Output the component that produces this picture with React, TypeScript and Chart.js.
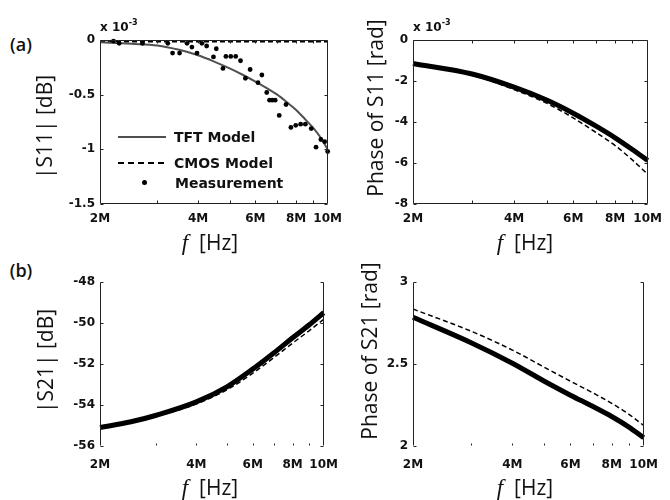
import React, { useEffect, useRef } from 'react';
import { Chart, registerables } from 'chart.js';
Chart.register(...registerables);

// ---- shared axis data ----
const xTickValues = [2, 4, 6, 8, 10];
const xTickLabels = ['2M', '4M', '6M', '8M', '10M'];
const xMinorTicks = [3, 4, 5, 6, 7, 8, 9];

// ---- (a) |S11| (x1e-3 dB) ----
const s11MagTftFreq = [2, 2.5, 3, 3.5, 4, 4.5, 5, 5.5, 6, 6.5, 7, 7.5, 8, 8.5, 9, 9.5, 10];
const s11MagTft = [-0.02, -0.035, -0.05, -0.09, -0.14, -0.2, -0.26, -0.32, -0.38, -0.44, -0.5, -0.57, -0.64, -0.72, -0.8, -0.89, -1.0];
const s11MagCmosFreq = [2, 4, 6, 8, 10];
const s11MagCmos = [-0.015, -0.015, -0.015, -0.015, -0.015];
const s11MagMeasFreq = [2.2, 2.29, 2.7, 3.23, 3.34, 3.51, 3.7, 3.83, 3.97, 4.11, 4.25, 4.46, 4.55, 4.77, 4.87, 5.04, 5.22, 5.4, 5.59, 5.78, 6.11, 6.28, 6.5, 6.63, 6.76, 6.9, 7.1, 7.45, 7.71, 7.98, 8.26, 8.54, 8.9, 9.21, 9.53, 9.79, 10];
const s11MagMeas = [-0.01, -0.03, -0.03, -0.03, -0.12, -0.12, -0.03, -0.065, -0.12, -0.03, -0.055, -0.155, -0.08, -0.26, -0.15, -0.15, -0.15, -0.19, -0.35, -0.27, -0.39, -0.32, -0.48, -0.55, -0.55, -0.55, -0.69, -0.59, -0.8, -0.78, -0.77, -0.77, -0.81, -0.98, -0.91, -0.93, -1.02];

// ---- (a) Phase of S11 (x1e-3 rad) ----
const s11PhFreq = [2, 3, 4, 5, 6, 7, 8, 9, 10];
const s11PhTft = [-1.15, -1.66, -2.3, -2.93, -3.57, -4.19, -4.77, -5.34, -5.88];
const s11PhCmos = [-1.18, -1.72, -2.42, -3.08, -3.8, -4.5, -5.15, -5.85, -6.55];
const s11PhMeas = [-1.15, -1.66, -2.3, -2.93, -3.57, -4.19, -4.77, -5.34, -5.88];

// ---- (b) |S21| (dB) ----
const s21MagFreq = [2, 2.5, 3, 4, 5, 6, 7, 8, 9, 10];
const s21MagTft = [-55.07, -54.79, -54.47, -53.82, -53.05, -52.2, -51.38, -50.64, -50.02, -49.42];
const s21MagCmos = [-55.1, -54.85, -54.55, -53.95, -53.25, -52.45, -51.68, -50.98, -50.38, -49.82];
const s21MagMeas = [-55.1, -54.82, -54.5, -53.85, -53.1, -52.25, -51.45, -50.72, -50.1, -49.5];

// ---- (b) Phase of S21 (rad) ----
const s21PhFreq = [2, 3, 4, 5, 6, 7, 8, 9, 10];
const s21PhTft = [2.785, 2.63, 2.505, 2.395, 2.31, 2.242, 2.18, 2.117, 2.05];
const s21PhCmos = [2.835, 2.7, 2.585, 2.48, 2.395, 2.325, 2.26, 2.195, 2.125];
const s21PhMeas = [2.785, 2.63, 2.505, 2.395, 2.31, 2.242, 2.18, 2.117, 2.05];

const pts = (xs: number[], ys: number[]) => xs.map((x, i) => ({ x, y: ys[i] }));

const tftStyle = (d: any) => ({ data: d, borderColor: '#505050', borderWidth: 2, pointRadius: 0, cubicInterpolationMode: 'monotone', fill: false });
const cmosStyle = (d: any) => ({ data: d, borderColor: '#000', borderWidth: 1.5, borderDash: [5, 3], pointRadius: 0, cubicInterpolationMode: 'monotone', fill: false });
const measLine = (d: any) => ({ data: d, borderColor: '#000', borderWidth: 5, pointRadius: 0, cubicInterpolationMode: 'monotone', fill: false, clip: false });
const measDots = (d: any) => ({ data: d, showLine: false, pointRadius: 2.4, pointBackgroundColor: '#000', pointBorderWidth: 0, borderColor: '#000', clip: false });

type PanelCfg = {
  left: number; top: number; width: number; height: number;
  area: { l: number; t: number; r: number; b: number };
  yMin: number; yMax: number; yStep: number; box: boolean; xPad: number;
  datasets: any[];
};

const panels: PanelCfg[] = [
  {
    left: 40, top: 20, width: 310, height: 220, area: { l: 100, t: 40, r: 335, b: 204 },
    yMin: -1.5, yMax: 0, yStep: 0.5, box: true, xPad: 8,
    datasets: [measDots(pts(s11MagMeasFreq, s11MagMeas)), tftStyle(pts(s11MagTftFreq, s11MagTft)), cmosStyle(pts(s11MagCmosFreq, s11MagCmos))],
  },
  {
    left: 352, top: 20, width: 318, height: 220, area: { l: 413, t: 40, r: 650, b: 204 },
    yMin: -8, yMax: 0, yStep: 2, box: true, xPad: 8,
    datasets: [measLine(pts(s11PhFreq, s11PhMeas)), tftStyle(pts(s11PhFreq, s11PhTft)), cmosStyle(pts(s11PhFreq, s11PhCmos))],
  },
  {
    left: 40, top: 262, width: 310, height: 218, area: { l: 100, t: 282, r: 335, b: 446 },
    yMin: -56, yMax: -48, yStep: 2, box: false, xPad: 12,
    datasets: [measLine(pts(s21MagFreq, s21MagMeas)), tftStyle(pts(s21MagFreq, s21MagTft)), cmosStyle(pts(s21MagFreq, s21MagCmos))],
  },
  {
    left: 352, top: 262, width: 318, height: 218, area: { l: 413, t: 282, r: 650, b: 446 },
    yMin: 2, yMax: 3, yStep: 0.5, box: false, xPad: 12,
    datasets: [measLine(pts(s21PhFreq, s21PhMeas)), tftStyle(pts(s21PhFreq, s21PhTft)), cmosStyle(pts(s21PhFreq, s21PhCmos))],
  },
];

const tickFont = { family: "'DejaVu Sans', sans-serif", size: 12, weight: 'bold' as const };

function framePlugin(box: boolean) {
  return {
    id: 'frame',
    afterDatasetsDraw(chart: any) {
      const { ctx, chartArea: a, scales } = chart;
      ctx.save();
      ctx.strokeStyle = '#222';
      ctx.lineWidth = 1;
      const L = Math.round(a.left) + 0.5, R = Math.round(a.right) - 0.5;
      const T = Math.round(a.top) + 0.5, B = Math.round(a.bottom) - 0.5;
      ctx.beginPath();
      if (box) {
        ctx.rect(L, T, R - L, B - T);
      } else {
        ctx.moveTo(L, T); ctx.lineTo(L, B);
        ctx.moveTo(R, T); ctx.lineTo(R, B);
      }
      ctx.stroke();
      ctx.beginPath();
      for (const f of xMinorTicks) {
        const x = Math.round(scales.x.getPixelForValue(f)) + 0.5;
        if (box) {
          ctx.moveTo(x, B); ctx.lineTo(x, B - 3);
          ctx.moveTo(x, T); ctx.lineTo(x, T + 3);
        } else {
          ctx.moveTo(x, B); ctx.lineTo(x, B - 2);
        }
      }
      for (const t of scales.y.ticks) {
        const y = Math.round(scales.y.getPixelForValue(t.value)) + 0.5;
        ctx.moveTo(L, y); ctx.lineTo(L + 3, y);
        ctx.moveTo(R, y); ctx.lineTo(R - 3, y);
      }
      ctx.stroke();
      ctx.restore();
    },
  };
}

function Panel({ cfg }: { cfg: PanelCfg }) {
  const ref = useRef<HTMLCanvasElement>(null);
  useEffect(() => {
    if (!ref.current) return;
    const { left, top, width, height, area } = cfg;
    const chart = new Chart(ref.current, {
      type: 'line',
      data: { datasets: cfg.datasets },
      options: {
        responsive: false,
        animation: false,
        devicePixelRatio: 1,
        layout: { padding: { top: area.t - top, right: left + width - area.r, left: 0, bottom: 0 } },
        plugins: { legend: { display: false }, tooltip: { enabled: false } },
        scales: {
          x: {
            type: 'logarithmic', min: 2, max: 10,
            grid: { display: false, drawTicks: false }, border: { display: false },
            afterBuildTicks: (s: any) => { s.ticks = xTickValues.map((v) => ({ value: v })); },
            afterFit: (s: any) => { s.height = top + height - area.b; },
            ticks: {
              autoSkip: false, maxRotation: 0, padding: cfg.xPad, color: '#111', font: tickFont,
              callback: (v: any) => xTickLabels[xTickValues.indexOf(Number(v))] ?? '',
            },
          },
          y: {
            type: 'linear', min: cfg.yMin, max: cfg.yMax,
            grid: { display: false, drawTicks: false }, border: { display: false },
            afterFit: (s: any) => { s.width = area.l - left; },
            ticks: {
              stepSize: cfg.yStep, padding: 5, color: '#111', font: tickFont,
              callback: (v: any) => String(Math.round(Number(v) * 100) / 100),
            },
          },
        },
      } as any,
      plugins: [framePlugin(cfg.box)],
    });
    return () => chart.destroy();
  }, [cfg]);
  return (
    <canvas ref={ref} width={cfg.width} height={cfg.height}
      style={{ position: 'absolute', left: cfg.left, top: cfg.top, width: cfg.width, height: cfg.height }} />
  );
}

const titleFont = "'Open Sans', 'Noto Sans', sans-serif";

function Txt({ x, y, children, style, rotate }: any) {
  return (
    <div style={{
      position: 'absolute', left: x, top: y, whiteSpace: 'nowrap', lineHeight: 1,
      transform: `translate(-50%, -50%)${rotate ? ' rotate(-90deg)' : ''}`, ...style,
    }}>{children}</div>
  );
}

const yTitleStyle = { fontFamily: titleFont, fontSize: 21, color: '#111' };
const xTitleStyle = { fontFamily: titleFont, fontSize: 21, color: '#111' };
const legendText = { fontFamily: "'DejaVu Sans', sans-serif", fontWeight: 'bold', fontSize: 14, color: '#111' };

function XTitle({ x, y }: any) {
  return (
    <Txt x={x} y={y} style={xTitleStyle}>
      <span style={{ fontFamily: "'Liberation Serif', serif", fontStyle: 'italic', fontSize: 23 }}>f</span>
      &nbsp;&nbsp;[Hz]
    </Txt>
  );
}

function Exp({ x, y }: any) {
  return (
    <div style={{ position: 'absolute', left: x, top: y, whiteSpace: 'nowrap', fontFamily: "'DejaVu Sans', sans-serif", fontWeight: 'bold', fontSize: 12, color: '#111', lineHeight: 1 }}>
      x 10<span style={{ fontSize: 8, position: 'relative', top: -6 }}>-3</span>
    </div>
  );
}

export default function App() {
  return (
    <div style={{ position: 'absolute', left: 0, top: 0, width: 670, height: 500, background: '#fff', overflow: 'hidden' }}>
      {panels.map((p, i) => <Panel key={i} cfg={p} />)}
      <Txt x={21} y={44} style={{ fontFamily: titleFont, fontWeight: 600, fontSize: 18, color: '#111' }}>(a)</Txt>
      <Txt x={21} y={270} style={{ fontFamily: titleFont, fontWeight: 600, fontSize: 18, color: '#111' }}>(b)</Txt>
      <Exp x={100} y={21} />
      <Exp x={413} y={21} />
      <Txt x={44} y={127} rotate style={yTitleStyle}>|S11| [dB]</Txt>
      <Txt x={375} y={108} rotate style={yTitleStyle}>Phase of S11 [rad]</Txt>
      <Txt x={45} y={361} rotate style={yTitleStyle}>|S21| [dB]</Txt>
      <Txt x={369} y={351} rotate style={yTitleStyle}>Phase of S21 [rad]</Txt>
      <XTitle x={210} y={242} />
      <XTitle x={525} y={242} />
      <XTitle x={210} y={487} />
      <XTitle x={525} y={487} />
      {/* legend */}
      <div style={{ position: 'absolute', left: 118, top: 136, width: 48, height: 0, borderTop: '2px solid #505050' }} />
      <div style={{ position: 'absolute', left: 118, top: 162, width: 48, height: 2, background: 'repeating-linear-gradient(to right, #000 0 6px, transparent 6px 10px)' }} />
      <div style={{ position: 'absolute', left: 142, top: 180, width: 5, height: 5, borderRadius: '50%', background: '#000' }} />
      <div style={{ position: 'absolute', left: 174, top: 137, transform: 'translateY(-50%)', lineHeight: 1, ...legendText }}>TFT Model</div>
      <div style={{ position: 'absolute', left: 174, top: 163, transform: 'translateY(-50%)', lineHeight: 1, ...legendText }}>CMOS Model</div>
      <div style={{ position: 'absolute', left: 175, top: 183, transform: 'translateY(-50%)', lineHeight: 1, ...legendText }}>Measurement</div>
    </div>
  );
}
